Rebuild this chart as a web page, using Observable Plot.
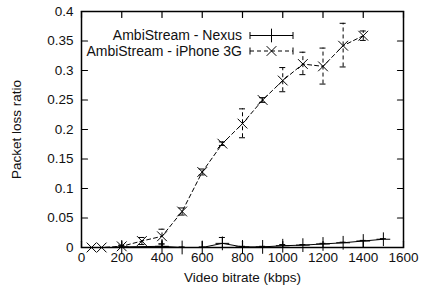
<!DOCTYPE html>
<html><head><meta charset="utf-8">
<script src="https://cdn.jsdelivr.net/npm/d3@7"></script>
<script src="https://cdn.jsdelivr.net/npm/@observablehq/plot@0.6"></script>
<style>
body{margin:0;background:#fff;}
#chart{position:relative;width:423px;height:297px;font-family:"Liberation Sans",Arial,sans-serif;}
#chart svg{display:block;}
#legend{position:absolute;left:0;top:0;}
</style>
</head><body><div id="chart"></div>
<script>
const seriesNames = ["AmbiStream - Nexus", "AmbiStream - iPhone 3G"];
const xTicks = [0, 200, 400, 600, 800, 1000, 1200, 1400, 1600];
const yTicks = [0, 0.05, 0.1, 0.15, 0.2, 0.25, 0.3, 0.35, 0.4];

const nexusBitrate = [200, 400, 500, 600, 700, 800, 900, 1000, 1100, 1200, 1300, 1400, 1500];
const nexusLoss    = [0.001, 0.002, 0.0, 0.0, 0.007, 0.001, 0.001, 0.003, 0.004, 0.006, 0.008, 0.011, 0.014];
const nexusLow     = [0.0, 0.0, 0.0, 0.0, 0.0, 0.0, 0.0, 0.001, 0.003, 0.005, 0.007, 0.01, 0.013];
const nexusHigh    = [0.003, 0.006, 0.001, 0.001, 0.017, 0.002, 0.002, 0.005, 0.005, 0.007, 0.009, 0.012, 0.015];

const iphoneBitrate = [50, 100, 200, 300, 400, 500, 600, 700, 800, 900, 1000, 1100, 1200, 1300, 1400];
const iphoneLoss    = [0.0, 0.0, 0.002, 0.011, 0.019, 0.061, 0.128, 0.176, 0.21, 0.25, 0.283, 0.311, 0.307, 0.342, 0.359];
const iphoneLow     = [0.0, 0.0, 0.0, 0.005, 0.006, 0.055, 0.123, 0.173, 0.186, 0.246, 0.264, 0.293, 0.277, 0.306, 0.351];
const iphoneHigh    = [0.0, 0.0, 0.004, 0.017, 0.031, 0.067, 0.133, 0.179, 0.235, 0.254, 0.305, 0.331, 0.338, 0.38, 0.367];

const nexus = nexusBitrate.map((x, i) => ({x, y: nexusLoss[i], lo: nexusLow[i], hi: nexusHigh[i]}));
const iphone = iphoneBitrate.map((x, i) => ({x, y: iphoneLoss[i], lo: iphoneLow[i], hi: iphoneHigh[i]}));

const tickShape = {draw(ctx, l) { ctx.moveTo(0, 0); ctx.lineTo(0, -l); }};
const tk = {length: 6, anchor: "start", shape: tickShape, stroke: "black", strokeWidth: 1.2};
const dash = "4,3";

const chart = Plot.plot({
  width: 423, height: 297,
  marginLeft: 81, marginRight: 20, marginTop: 11, marginBottom: 50,
  style: {fontFamily: "'Liberation Sans', Arial, sans-serif", fontSize: "13.5px", color: "#111", background: "white"},
  x: {domain: [0, 1600]},
  y: {domain: [0, 0.4]},
  marks: [
    Plot.axisX({ticks: xTicks, tickSize: 0, tickPadding: 5, tickFormat: d => String(d),
      label: "Video bitrate (kbps)", labelAnchor: "center", labelOffset: 34, labelArrow: "none"}),
    Plot.axisY({ticks: yTicks, tickSize: 0, tickPadding: 8, tickFormat: d => String(d),
      label: "Packet loss ratio", labelAnchor: "center", labelOffset: 70, labelArrow: "none"}),
    Plot.vector(xTicks, {x: d => d, frameAnchor: "bottom", rotate: 0, ...tk}),
    Plot.vector(xTicks, {x: d => d, frameAnchor: "top", rotate: 180, ...tk}),
    Plot.vector(yTicks, {y: d => d, frameAnchor: "left", rotate: 90, ...tk}),
    Plot.vector(yTicks, {y: d => d, frameAnchor: "right", rotate: -90, ...tk}),
    // iPhone series (dashed)
    Plot.ruleX(iphone, {x: "x", y1: "lo", y2: "hi", stroke: "black", strokeWidth: 1, strokeDasharray: dash}),
    Plot.ruleY(iphone, {y: "hi", x1: "x", x2: "x", insetLeft: -3, insetRight: -3, stroke: "black", strokeWidth: 1}),
    Plot.ruleY(iphone, {y: "lo", x1: "x", x2: "x", insetLeft: -3, insetRight: -3, stroke: "black", strokeWidth: 1}),
    Plot.line(iphone, {x: "x", y: "y", stroke: "black", strokeWidth: 1, strokeDasharray: dash}),
    Plot.dot(iphone, {x: "x", y: "y", symbol: "times", r: 4.5, stroke: "black", strokeWidth: 1}),
    // Nexus series (solid)
    Plot.ruleX(nexus, {x: "x", y1: "lo", y2: "hi", stroke: "black", strokeWidth: 1}),
    Plot.ruleY(nexus, {y: "hi", x1: "x", x2: "x", insetLeft: -3, insetRight: -3, stroke: "black", strokeWidth: 1}),
    Plot.line(nexus, {x: "x", y: "y", stroke: "black", strokeWidth: 1}),
    Plot.dot(nexus, {x: "x", y: "y", symbol: "plus", r: 4.5, stroke: "black", strokeWidth: 1}),
    Plot.frame({stroke: "black", strokeWidth: 1.5})
  ]
});
const root = document.getElementById("chart");
root.appendChild(chart);

// legend overlay (key box inside the frame, top-left)
const lg = d3.select(root).append("svg").attr("id", "legend").attr("width", 423).attr("height", 297)
  .style("font-family", "'Liberation Sans', Arial, sans-serif").style("font-size", "14px").attr("fill", "#111");
const rows = [
  {name: seriesNames[0], dash: null, sym: d3.symbolPlus},
  {name: seriesNames[1], dash: dash, sym: d3.symbolTimes}
];
rows.forEach((r, i) => {
  const cy = 35.5 + i * 15.5;
  lg.append("text").attr("x", 242).attr("y", cy).attr("dy", "0.35em").attr("text-anchor", "end").text(r.name);
  const g = lg.append("g").attr("stroke", "black").attr("fill", "none").attr("stroke-width", 1);
  g.append("line").attr("x1", 250).attr("x2", 293).attr("y1", cy).attr("y2", cy).attr("stroke-dasharray", r.dash);
  g.append("line").attr("x1", 250).attr("x2", 250).attr("y1", cy - 3.5).attr("y2", cy + 3.5);
  g.append("line").attr("x1", 293).attr("x2", 293).attr("y1", cy - 3.5).attr("y2", cy + 3.5);
  g.append("path").attr("transform", `translate(271.5,${cy})`).attr("d", d3.symbol(r.sym, 63)());
});
</script>
</body></html>
